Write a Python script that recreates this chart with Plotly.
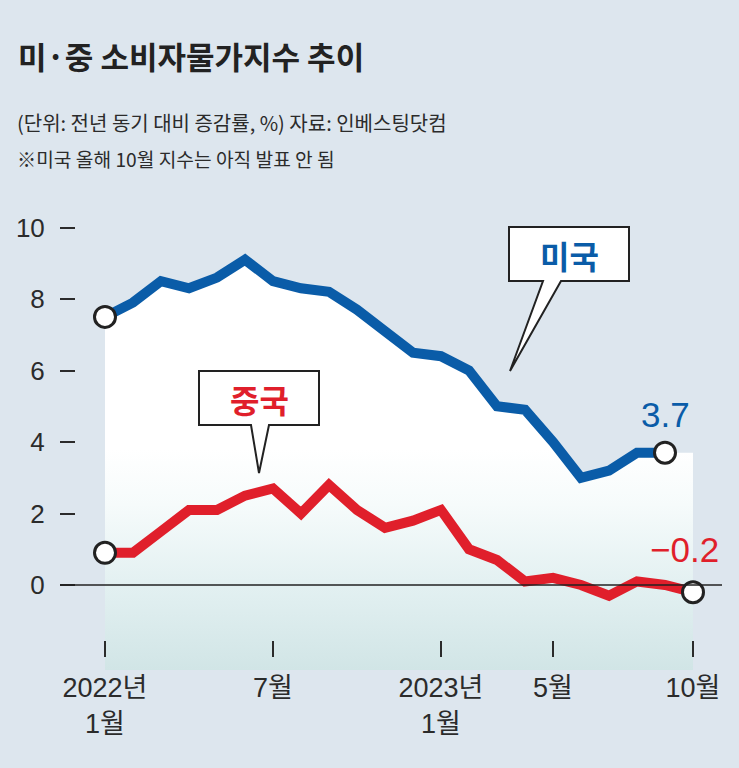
import plotly.graph_objects as go

# ---------------- data ----------------
months = list(range(22))  # 2022-01 .. 2023-10
us_cpi = [7.5, 7.9, 8.5, 8.3, 8.6, 9.1, 8.5, 8.3, 8.2, 7.7, 7.1, 6.5,
          6.4, 6.0, 5.0, 4.9, 4.0, 3.0, 3.2, 3.7, 3.7]          # to 2023-09
cn_cpi = [0.9, 0.9, 1.5, 2.1, 2.1, 2.5, 2.7, 2.0, 2.8, 2.1, 1.6, 1.8,
          2.1, 1.0, 0.7, 0.1, 0.2, 0.0, -0.3, 0.1, 0.0, -0.2]    # to 2023-10
x_tickvals = [0, 6, 12, 16, 21]
x_ticktext = ["2022년<br>1월", "7월", "2023년<br>1월", "5월", "10월"]
y_tickvals = [0, 2, 4, 6, 8, 10]
y_ticktext = ["0", "2", "4", "6", "8", "10"]

# ---------------- geometry ----------------
W, H = 739, 768
ML, MR, MT, MB = 76, 0, 0, 98
PW, PH = W - ML - MR, H - MT - MB
PX_X0, PX_PER_M = 105, 28.0
PY_ZERO, PX_PER_U = 585, 35.75
x0 = -(PX_X0 - ML) / PX_PER_M
x1 = x0 + PW / PX_PER_M
y0 = -(MT + PH - PY_ZERO) / PX_PER_U
y1 = y0 + PH / PX_PER_U


def px(xp):
    return (xp - ML) / PW


def py(yp):
    return (MT + PH - yp) / PH


BG = "#dde6ee"
BLUE = "#0a5ca8"
RED = "#e01f2b"
INK = "#2b2b2b"
NUMF = "Liberation Sans, Arial, Noto Sans CJK KR, sans-serif"
KR = "Noto Sans CJK KR, sans-serif"

fig = go.Figure()

# gradient area under the US line
fill_x = months[:len(us_cpi)] + [months[-1], months[-1], months[0]]
fill_y = us_cpi + [us_cpi[-1], y0, y0]
fig.add_trace(go.Scatter(
    x=fill_x, y=fill_y, mode="lines", fill="toself",
    line=dict(width=0, color="rgba(0,0,0,0)"),
    fillgradient=dict(type="vertical", start=y0, stop=3.8,
                      colorscale=[[0, "rgb(209,229,230)"],
                                  [0.37, "rgb(226,240,241)"],
                                  [0.75, "rgb(246,251,251)"],
                                  [1, "rgb(255,255,255)"]]),
    hoverinfo="skip", showlegend=False))

fig.add_trace(go.Scatter(x=months[:len(us_cpi)], y=us_cpi, mode="lines",
                         line=dict(color=BLUE, width=10), showlegend=False))
fig.add_trace(go.Scatter(x=months, y=cn_cpi, mode="lines",
                         line=dict(color=RED, width=10), showlegend=False))

fig.add_trace(go.Scatter(
    x=[months[0], months[len(us_cpi) - 1], months[0], months[-1]],
    y=[us_cpi[0], us_cpi[-1], cn_cpi[0], cn_cpi[-1]],
    mode="markers",
    marker=dict(size=21, color="white", line=dict(color="#222222", width=3)),
    showlegend=False, cliponaxis=False))

# zero line
fig.add_shape(type="line", xref="paper", yref="y", x0=px(60), x1=px(722),
              y0=0, y1=0, line=dict(color="#222222", width=1.3), layer="above")


# callouts
def callout(box, base, tip):
    (bx0, by0, bx1, by1) = box
    (b0, b1) = base
    path = (f"M {px(bx0)} {py(by0)} L {px(bx1)} {py(by0)} L {px(bx1)} {py(by1)} "
            f"L {px(b1)} {py(by1)} L {px(tip[0])} {py(tip[1])} L {px(b0)} {py(by1)} "
            f"L {px(bx0)} {py(by1)} Z")
    fig.add_shape(type="path", path=path, xref="paper", yref="paper",
                  fillcolor="white", line=dict(color="#222222", width=2), layer="above")


callout((509, 227, 629, 281), (543, 561), (510, 371))
callout((199, 371, 319, 425), (251, 269), (259, 473))

ann = []
ann.append(dict(text="<b>미국</b>", x=px(569), y=py(255), xref="paper", yref="paper",
                xanchor="center", yanchor="middle",
                showarrow=False, font=dict(family=KR, size=32, color=BLUE)))
ann.append(dict(text="<b>중국</b>", x=px(259), y=py(399), xref="paper", yref="paper",
                xanchor="center", yanchor="middle",
                showarrow=False, font=dict(family=KR, size=32, color=RED)))
ann.append(dict(text=f"{us_cpi[-1]:.1f}", x=months[len(us_cpi) - 1], y=us_cpi[-1],
                xref="x", yref="y", yshift=38, xanchor="center", showarrow=False,
                font=dict(family=NUMF, size=35, color=BLUE)))
ann.append(dict(text=f"−{abs(cn_cpi[-1]):.1f}", x=months[-1], y=cn_cpi[-1],
                xref="x", yref="y", yshift=43, xshift=-9, xanchor="center", showarrow=False,
                font=dict(family=NUMF, size=35, color=RED)))

# title & notes
ann.append(dict(text="<b>미·중 소비자물가지수 추이</b>", x=px(16), y=py(55),
                xref="paper", yref="paper", xanchor="left", yanchor="middle",
                showarrow=False, font=dict(family=KR, size=31, color="#222222")))
ann.append(dict(text="(단위: 전년 동기 대비 증감률, %) 자료: 인베스팅닷컴", x=px(15), y=py(122),
                xref="paper", yref="paper", xanchor="left", yanchor="middle",
                showarrow=False, font=dict(family=KR, size=20, color=INK)))
ann.append(dict(text="※미국 올해 10월 지수는 아직 발표 안 됨", x=px(15), y=py(159),
                xref="paper", yref="paper", xanchor="left", yanchor="middle",
                showarrow=False, font=dict(family=KR, size=19.2, color=INK)))

fig.update_layout(
    width=W, height=H,
    margin=dict(l=ML, r=MR, t=MT, b=MB),
    paper_bgcolor=BG, plot_bgcolor=BG,
    annotations=ann, showlegend=False,
    xaxis=dict(range=[x0, x1], showgrid=False, zeroline=False, showline=False,
               tickvals=x_tickvals, ticktext=x_ticktext,
               ticks="outside", ticklen=16, tickwidth=1.5, tickcolor=INK,
               anchor="free", position=(MT + PH - 640) / PH,
               ticklabelstandoff=8,
               tickfont=dict(family=NUMF, size=27, color=INK)),
    yaxis=dict(range=[y0, y1], showgrid=False, zeroline=False, showline=False,
               tickvals=y_tickvals, ticktext=y_ticktext,
               ticks="outside", ticklen=15, tickwidth=1.5, tickcolor=INK,
               ticklabelstandoff=10,
               tickfont=dict(family=NUMF, size=26, color=INK)),
)

fig.write_html("out.html", config={"displayModeBar": False},
               post_script="document.body.style.margin='0';document.body.style.padding='0';")
